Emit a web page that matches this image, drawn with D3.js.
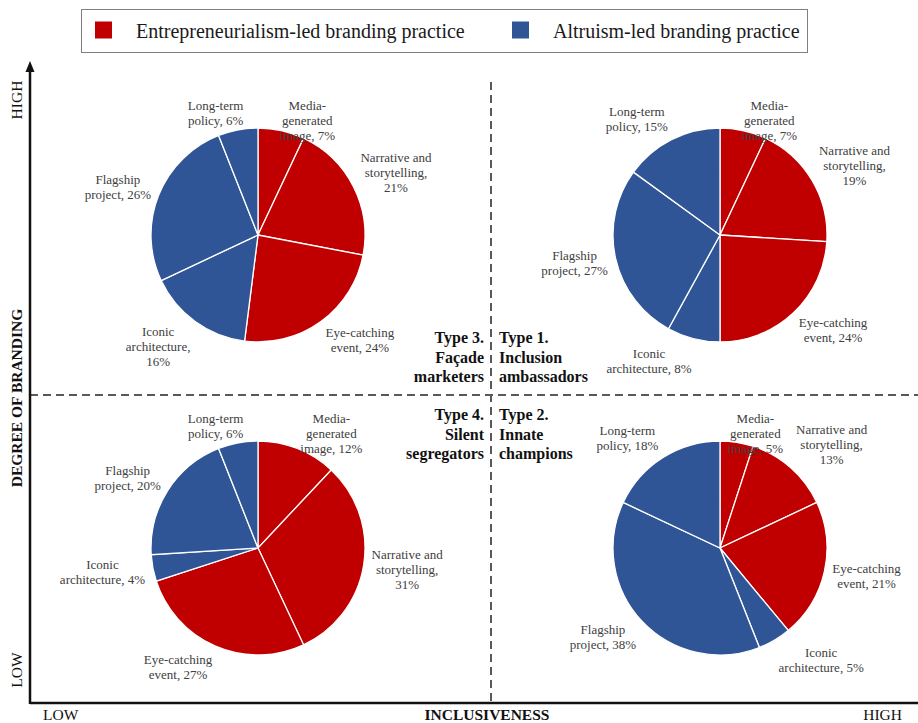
<!DOCTYPE html>
<html>
<head>
<meta charset="utf-8">
<script src="https://cdn.jsdelivr.net/npm/d3@7"></script>
<style>
body { margin:0; background:#fff; }
text { font-family:"Liberation Serif","Times New Roman",serif; }
</style>
</head>
<body>
<svg id="chart" width="918" height="723"></svg>
<script>

// slices, clockwise from 12 o'clock
var categories = ["Media-generated image", "Narrative and storytelling", "Eye-catching event",
                  "Iconic architecture", "Flagship project", "Long-term policy"];
var practiceOf = [0, 0, 0, 1, 1, 1];
var practices = ["Entrepreneurialism-led branding practice", "Altruism-led branding practice"];

var type1Shares = [7, 19, 24, 8, 27, 15];   // high inclusiveness, high branding
var type2Shares = [5, 13, 21, 5, 38, 18];   // high inclusiveness, low branding
var type3Shares = [7, 21, 24, 16, 26, 6];   // low inclusiveness, high branding
var type4Shares = [12, 31, 27, 4, 20, 6];   // low inclusiveness, low branding

var typeNames = ["Type 1.", "Type 2.", "Type 3.", "Type 4."];
var typeWords = [["Inclusion", "ambassadors"], ["Innate", "champions"],
                 ["Façade", "marketers"], ["Silent", "segregators"]];
var levels = ["LOW", "HIGH"];

var colors = ["#C00000", "#2F5597"];

var svg = d3.select("#chart");

// quadrant layout
var x = d3.scalePoint().domain(levels).range([258, 720]);
var y = d3.scalePoint().domain(["HIGH", "LOW"]).range([235, 548]);
var x0 = 30, y0 = 703, midX = 491, midY = 395;

var quads = [
  {shares: type1Shares, inc: "HIGH", brand: "HIGH"},
  {shares: type2Shares, inc: "HIGH", brand: "LOW"},
  {shares: type3Shares, inc: "LOW",  brand: "HIGH"},
  {shares: type4Shares, inc: "LOW",  brand: "LOW"}
];

// dashed dividers
svg.append("line").attr("x1", x0).attr("x2", 918).attr("y1", midY).attr("y2", midY)
  .attr("stroke", "#595959").attr("stroke-width", 2).attr("stroke-dasharray", "8,5");
svg.append("line").attr("x1", midX).attr("x2", midX).attr("y1", 82).attr("y2", y0)
  .attr("stroke", "#595959").attr("stroke-width", 2).attr("stroke-dasharray", "8,5");

// axes
svg.append("line").attr("x1", x0).attr("x2", 918).attr("y1", y0).attr("y2", y0)
  .attr("stroke", "#111").attr("stroke-width", 2.5);
svg.append("line").attr("x1", x0).attr("x2", x0).attr("y1", y0 + 1).attr("y2", 68)
  .attr("stroke", "#111").attr("stroke-width", 2.5);
svg.append("path").attr("d", "M" + (x0 - 4.5) + ",72L" + x0 + ",61L" + (x0 + 4.5) + ",72Z")
  .attr("fill", "#111");

// axis labels
function vtext(txt, cy, bold) {
  svg.append("text").text(txt)
    .attr("transform", "translate(16," + cy + ") rotate(-90)")
    .attr("text-anchor", "middle").attr("dominant-baseline", "central")
    .attr("font-size", 15.5).attr("font-weight", bold ? "bold" : "normal").attr("fill", "#111");
}
vtext("HIGH", 100);
vtext("DEGREE OF BRANDING", 398, true);
vtext("LOW", 670);

svg.append("text").text(levels[0]).attr("x", 43).attr("y", 720)
  .attr("font-size", 15.5).attr("fill", "#111");
svg.append("text").text("INCLUSIVENESS").attr("x", 487).attr("y", 720)
  .attr("text-anchor", "middle").attr("font-size", 15.5).attr("font-weight", "bold").attr("fill", "#111");
svg.append("text").text(levels[1]).attr("x", 902).attr("y", 720)
  .attr("text-anchor", "end").attr("font-size", 15.5).attr("fill", "#111");

// type labels around the centre cross
[[0, "start", 499, 343], [1, "start", 499, 420], [2, "end", 484, 343], [3, "end", 484, 420]]
  .forEach(function(t) {
    var g = svg.append("text").attr("text-anchor", t[1]).attr("font-size", 16)
      .attr("font-weight", "bold").attr("fill", "#111");
    [typeNames[t[0]]].concat(typeWords[t[0]]).forEach(function(s, i) {
      g.append("tspan").attr("x", t[2]).attr("y", t[3] + i * 19.5).text(s);
    });
  });

// pies
var R = 107, pad = 8, fs = 13, lh = 15, maxW = 6.62 * fs;
var pie = d3.pie().sort(null).value(function(d) { return d; });
var arc = d3.arc().innerRadius(0).outerRadius(R);

var meas = svg.append("text").attr("font-size", fs).attr("visibility", "hidden");
function tw(s) { meas.text(s); return meas.node().getComputedTextLength(); }

function wrap(s) {
  var toks = [];
  s.split(" ").forEach(function(w) {
    var parts = w.match(/[^-]+-?/g);
    parts.forEach(function(p, i) { toks.push({t: p, sp: i === 0}); });
  });
  var lines = [], cur = "";
  toks.forEach(function(k) {
    var cand = cur === "" ? k.t : cur + (k.sp ? " " : "") + k.t;
    if (cur !== "" && tw(cand) > maxW) { lines.push(cur); cur = k.t; }
    else cur = cand;
  });
  lines.push(cur);
  return lines;
}

quads.forEach(function(q) {
  var cx = x(q.inc), cy = y(q.brand);
  var g = svg.append("g").attr("transform", "translate(" + cx + "," + cy + ")");
  var arcs = pie(q.shares);

  g.selectAll("path").data(arcs).enter().append("path")
    .attr("d", arc)
    .attr("fill", function(d, i) { return colors[practiceOf[i]]; })
    .attr("stroke", "#fff").attr("stroke-width", 1.3);

  arcs.forEach(function(d, i) {
    var lines = wrap(categories[i] + ", " + d.data + "%");
    var w = d3.max(lines, tw), h = lines.length * lh;
    var a = (d.startAngle + d.endAngle) / 2;
    var s = Math.sin(a), c = -Math.cos(a);
    var lx = s * (R + pad) + (s < 0 ? -1 : 1) * (w / 2) * Math.min(1, Math.abs(s) * 4);
    var ly = c * (R + pad) + c * h / 2;
    if (ly - h / 2 < -137) ly = -137 + h / 2;
    var t = g.append("text").attr("text-anchor", "middle").attr("font-size", fs).attr("fill", "#404040");
    lines.forEach(function(l, j) {
      t.append("tspan").attr("x", lx)
        .attr("y", ly - h / 2 + lh * j + lh / 2 + fs * 0.35).text(l);
    });
  });
});
meas.remove();

// legend
svg.append("rect").attr("x", 81.5).attr("y", 9.5).attr("width", 726).attr("height", 43)
  .attr("fill", "#fff").attr("stroke", "#808080").attr("stroke-width", 1);
var legX = [95, 512];
practices.forEach(function(p, i) {
  svg.append("rect").attr("x", legX[i]).attr("y", 21.5).attr("width", 17).attr("height", 17)
    .attr("fill", colors[i]);
  svg.append("text").text(p).attr("x", legX[i] + 41).attr("y", 37.5)
    .attr("font-size", 20).attr("fill", "#1a1a1a");
});

</script>
</body>
</html>
